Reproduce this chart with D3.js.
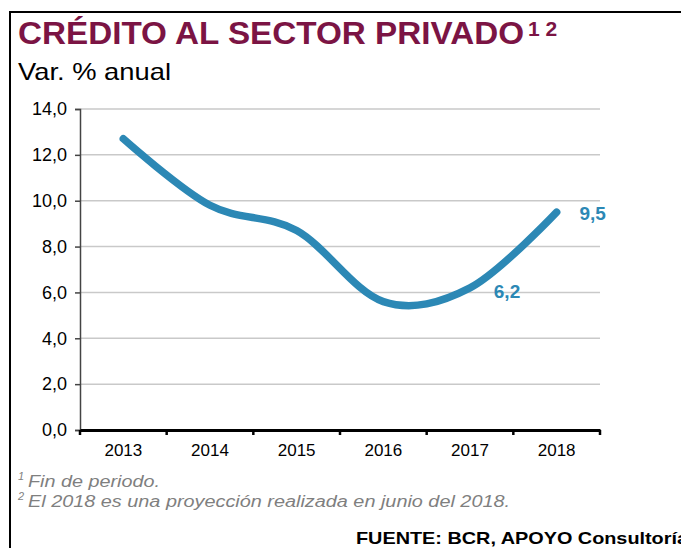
<!DOCTYPE html>
<meta charset="utf-8">
<style>
    body { margin: 0; background: #fff; }
    svg text { font-family: "Liberation Sans", Arial, sans-serif; }
</style>
<svg width="681" height="548"></svg>
<script src="https://cdn.jsdelivr.net/npm/d3@7"></script>
<script>
    var years = ["2013", "2014", "2015", "2016", "2017", "2018"];
    var credito = [12.7, 9.8, 8.7, 5.6, 6.2, 9.5];
    var yTicks = [0, 2, 4, 6, 8, 10, 12, 14];
    var notes = ["Fin de periodo.", "El 2018 es una proyección realizada en junio del 2018."];

    var svg = d3.select("svg"),
        padLeft = 80, padRight = 600, padTop = 109, padBottom = 430,
        blue = "#2c88b5",
        fmt = function (v) { return d3.format(".1f")(v).replace(".", ","); };

    var x = d3.scaleBand().domain(years).range([padLeft, padRight]).padding(0);
    var y = d3.scaleLinear().domain([0, 14]).range([padBottom, padTop]);

    // marco
    svg.append("path")
        .attr("d", "M10,548 V12 H681")
        .attr("fill", "none")
        .attr("stroke", "#000")
        .attr("stroke-width", 2);

    // titulo
    svg.append("text").attr("x", 18).attr("y", 44)
        .attr("fill", "#7b1444").attr("font-size", 31).attr("font-weight", "bold")
        .attr("textLength", 506).attr("lengthAdjust", "spacingAndGlyphs")
        .text("CRÉDITO AL SECTOR PRIVADO");
    svg.append("text").attr("x", 528).attr("y", 36)
        .attr("fill", "#7b1444").attr("font-size", 21).attr("font-weight", "bold")
        .text("1 2");

    svg.append("text").attr("x", 18).attr("y", 80)
        .attr("font-size", 24).attr("fill", "#000")
        .attr("textLength", 153).attr("lengthAdjust", "spacingAndGlyphs")
        .text("Var. % anual");

    // grid
    svg.append("g").selectAll("line").data(yTicks.slice(1)).enter().append("line")
        .attr("x1", padLeft).attr("x2", padRight)
        .attr("y1", function (d) { return y(d); })
        .attr("y2", function (d) { return y(d); })
        .attr("stroke", "#c9c9c9").attr("stroke-width", 1.5);

    // eje y
    var yAxis = svg.append("g")
        .attr("transform", "translate(" + padLeft + ",0)")
        .call(d3.axisLeft(y).tickValues(yTicks).tickFormat(fmt).tickSize(5).tickPadding(8));
    yAxis.select(".domain").attr("stroke", "#444").attr("stroke-width", 1.5);
    yAxis.selectAll(".tick line").attr("stroke", "#444").attr("stroke-width", 1.5);
    yAxis.selectAll("text").attr("font-size", 18).attr("fill", "#000")
        .attr("font-family", "Liberation Sans, Arial, sans-serif");

    // eje x
    var xAxis = svg.append("g")
        .attr("transform", "translate(0," + padBottom + ")")
        .call(d3.axisBottom(x).tickSize(0).tickPadding(14));
    xAxis.select(".domain").attr("stroke", "#000").attr("stroke-width", 3);
    xAxis.selectAll("text").attr("font-size", 17).attr("fill", "#000")
        .attr("font-family", "Liberation Sans, Arial, sans-serif");
    xAxis.selectAll(".edge").data(years.concat(["end"])).enter().append("line")
        .attr("class", "edge")
        .attr("x1", function (d, i) { return padLeft + i * x.bandwidth(); })
        .attr("x2", function (d, i) { return padLeft + i * x.bandwidth(); })
        .attr("y1", 0).attr("y2", 5)
        .attr("stroke", "#000").attr("stroke-width", 2.5);

    // linea
    var pts = years.map(function (d, i) { return [d, credito[i]]; });
    var line = d3.line()
        .x(function (d) { return x(d[0]) + x.bandwidth() / 2; })
        .y(function (d) { return y(d[1]); })
        .curve(d3.curveCatmullRom.alpha(0));
    svg.append("path")
        .attr("d", line(pts))
        .attr("fill", "none")
        .attr("stroke", blue)
        .attr("stroke-width", 7.5)
        .attr("stroke-linecap", "round");

    // etiquetas
    svg.append("text")
        .attr("x", x("2017") + x.bandwidth() / 2 + 37)
        .attr("y", y(credito[4]) + 10)
        .attr("text-anchor", "middle")
        .attr("font-size", 19).attr("font-weight", "bold").attr("fill", blue)
        .text(fmt(credito[4]));
    svg.append("text")
        .attr("x", x("2018") + x.bandwidth() / 2 + 36)
        .attr("y", y(credito[5]) + 8)
        .attr("text-anchor", "middle")
        .attr("font-size", 19).attr("font-weight", "bold").attr("fill", blue)
        .text(fmt(credito[5]));

    // notas
    var noteLen = [132, 482];
    notes.forEach(function (n, i) {
        svg.append("text").attr("x", 18).attr("y", 480 + i * 20)
            .attr("font-size", 11).attr("fill", "#7f7f7f").attr("font-style", "italic")
            .text(i + 1);
        svg.append("text").attr("x", 28).attr("y", 487 + i * 20)
            .attr("font-size", 16).attr("fill", "#7f7f7f").attr("font-style", "italic")
            .attr("textLength", noteLen[i]).attr("lengthAdjust", "spacingAndGlyphs")
            .text(n);
    });

    svg.append("text").attr("x", 356).attr("y", 544)
        .attr("font-size", 17).attr("font-weight", "bold").attr("fill", "#000")
        .attr("textLength", 332).attr("lengthAdjust", "spacingAndGlyphs")
        .text("FUENTE: BCR, APOYO Consultoría");
</script>
